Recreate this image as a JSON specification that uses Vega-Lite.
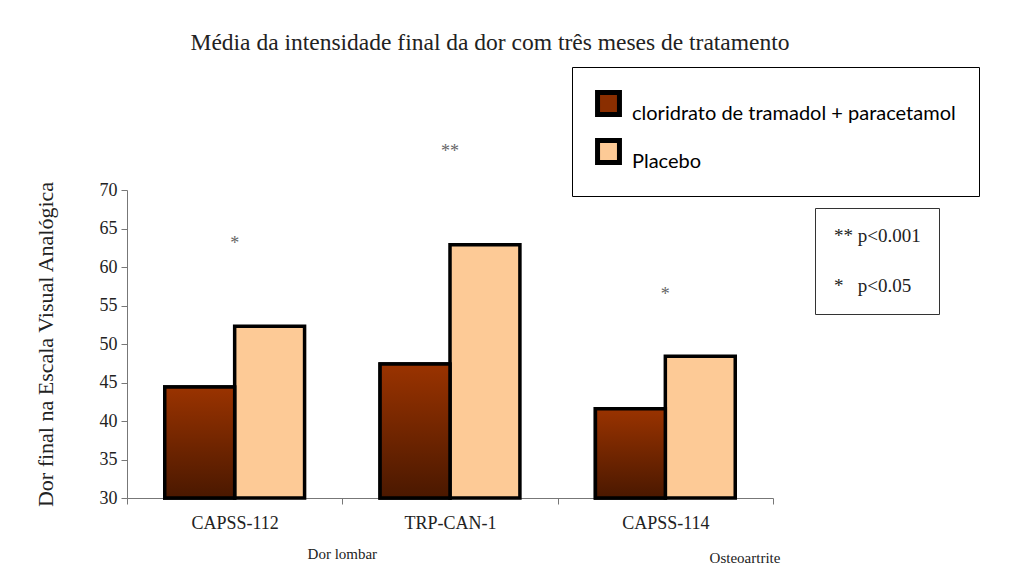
{
  "$schema": "https://vega.github.io/schema/vega-lite/v6.json",
  "width": 646,
  "height": 308,
  "autosize": "none",
  "padding": {"left": 127, "top": 190, "right": 243, "bottom": 74},
  "background": "white",
  "config": {
    "view": {"stroke": null},
    "font": "Liberation Serif",
    "title": {"font": "Liberation Serif", "fontSize": 23.5, "fontWeight": "normal", "color": "#222222"}
  },
  "title": {
    "text": "Média da intensidade final da dor com três meses de tratamento",
    "font": "Liberation Serif",
    "fontSize": 23.5,
    "fontWeight": "normal",
    "color": "#222222",
    "offset": 12,
    "dx": 40,
    "anchor": "middle"
  },
  "datasets": {
    "barras": [
      {"grupo": "CAPSS-112", "tratamento": "cloridrato de tramadol + paracetamol", "valor": 44.4},
      {"grupo": "CAPSS-112", "tratamento": "Placebo", "valor": 52.3},
      {"grupo": "TRP-CAN-1", "tratamento": "cloridrato de tramadol + paracetamol", "valor": 47.4},
      {"grupo": "TRP-CAN-1", "tratamento": "Placebo", "valor": 62.9},
      {"grupo": "CAPSS-114", "tratamento": "cloridrato de tramadol + paracetamol", "valor": 41.6},
      {"grupo": "CAPSS-114", "tratamento": "Placebo", "valor": 48.4}
    ],
    "estrelas": [
      {"grupo": "CAPSS-112", "valor": 63.0, "estrela": "*", "sig": "*\u00a0\u00a0 p<0.05"},
      {"grupo": "TRP-CAN-1", "valor": 75.0, "estrela": "**", "sig": "** p<0.001"},
      {"grupo": "CAPSS-114", "valor": 56.3, "estrela": "*", "sig": "*\u00a0\u00a0 p<0.05"}
    ],
    "indicacoes": [
      {"grupo": "CAPSS-112", "texto": "Dor lombar", "valor": 30},
      {"grupo": "CAPSS-114", "texto": "Osteoartrite", "valor": 30}
    ]
  },
  "encoding": {
    "x": {
      "field": "grupo", "type": "nominal",
      "sort": ["CAPSS-112", "TRP-CAN-1", "CAPSS-114"],
      "scale": {"paddingInner": 0, "paddingOuter": 0},
      "axis": {
        "title": null, "labelAngle": 0, "tickBand": "extent",
        "labelFont": "Liberation Serif", "labelFontSize": 18, "labelColor": "#222222",
        "domainColor": "#777777", "tickColor": "#777777", "tickSize": 6, "labelPadding": 10
      }
    },
    "y": {
      "field": "valor", "type": "quantitative",
      "scale": {"domain": [30, 70], "nice": false, "zero": false},
      "axis": {
        "values": [30, 35, 40, 45, 50, 55, 60, 65, 70],
        "labelOverlap": false,
        "grid": false, "tickSize": 6, "labelPadding": 4,
        "labelFont": "Liberation Serif", "labelFontSize": 18, "labelColor": "#222222",
        "domainColor": "#777777", "tickColor": "#777777",
        "title": "Dor final na Escala Visual Analógica",
        "titleFont": "Liberation Serif", "titleFontSize": 22, "titleFontWeight": "normal",
        "titleColor": "#222222", "titlePadding": 42
      }
    }
  },
  "layer": [
    {
      "data": {"name": "barras"},
      "mark": {"type": "bar", "stroke": "black", "strokeWidth": 3.5},
      "encoding": {
        "xOffset": {
          "field": "tratamento", "type": "nominal",
          "sort": ["cloridrato de tramadol + paracetamol", "Placebo"],
          "scale": {"paddingInner": 0, "paddingOuter": 0.54}
        },
        "y2": {"datum": 30},
        "fill": {
          "field": "tratamento", "type": "nominal",
          "sort": ["cloridrato de tramadol + paracetamol", "Placebo"],
          "scale": {"range": ["#8a2e00", "#fdca96"]},
          "legend": {
            "orient": "none", "legendX": 445, "legendY": -123,
            "title": null, "strokeColor": "black", "padding": 23,
            "symbolType": "square", "symbolSize": 480, "symbolStrokeWidth": 5, "symbolStrokeColor": "black",
            "labelFont": "Lato", "labelFontSize": 20, "labelColor": "black",
            "labelBaseline": "top", "labelOffset": 10, "labelLimit": 400, "rowPadding": 5
          }
        }
      }
    },
    {
      "data": {"name": "barras"},
      "transform": [{"filter": "datum.tratamento !== 'Placebo'"}],
      "mark": {
        "type": "bar", "stroke": "black", "strokeWidth": 3.5,
        "fill": {"gradient": "linear", "x1": 0, "y1": 0, "x2": 0, "y2": 1,
                 "stops": [{"offset": 0, "color": "#9a3300"}, {"offset": 1, "color": "#4a1800"}]}
      },
      "encoding": {
        "xOffset": {"field": "tratamento", "type": "nominal", "sort": ["cloridrato de tramadol + paracetamol", "Placebo"]},
        "y2": {"datum": 30}
      }
    },
    {
      "data": {"name": "estrelas"},
      "mark": {"type": "text", "font": "Liberation Serif", "fontSize": 18, "color": "#666666"},
      "encoding": {
        "text": {"field": "estrela"},
        "opacity": {
          "field": "sig", "type": "ordinal",
          "sort": ["** p<0.001", "*\u00a0\u00a0 p<0.05"],
          "scale": {"range": [1, 1]},
          "legend": {
            "orient": "none", "legendX": 688, "legendY": 18,
            "title": null, "strokeColor": "#333333", "padding": 18,
            "symbolOpacity": 0, "symbolStrokeWidth": 0, "symbolSize": 0, "labelOffset": -18,
            "labelFont": "Liberation Serif", "labelFontSize": 19, "labelColor": "#222222",
            "rowPadding": 30
          }
        }
      }
    },
    {
      "data": {"name": "indicacoes"},
      "transform": [{"filter": "datum.texto === 'Dor lombar'"}],
      "mark": {"type": "text", "font": "Liberation Serif", "fontSize": 15, "color": "#222222", "dy": 56},
      "encoding": {
        "x": {"field": "grupo", "type": "nominal", "sort": ["CAPSS-112", "TRP-CAN-1", "CAPSS-114"], "bandPosition": 1},
        "text": {"field": "texto"}
      }
    },
    {
      "data": {"name": "indicacoes"},
      "transform": [{"filter": "datum.texto === 'Osteoartrite'"}],
      "mark": {"type": "text", "font": "Liberation Serif", "fontSize": 15, "color": "#222222", "dy": 60},
      "encoding": {
        "x": {"field": "grupo", "type": "nominal", "sort": ["CAPSS-112", "TRP-CAN-1", "CAPSS-114"], "bandPosition": 0.87},
        "text": {"field": "texto"}
      }
    }
  ]
}
